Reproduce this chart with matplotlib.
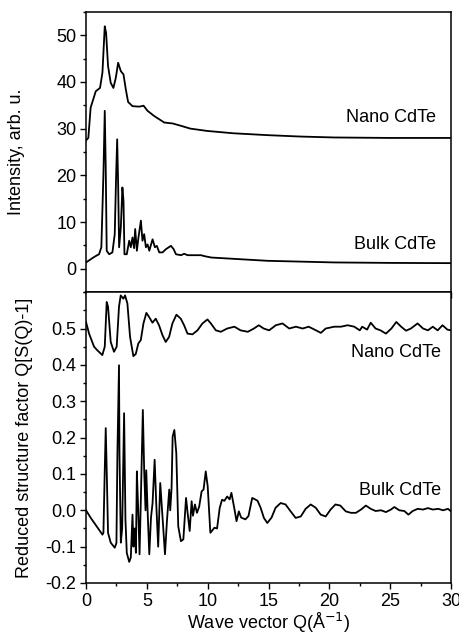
import numpy as np
import matplotlib
matplotlib.use("Agg")
import matplotlib.pyplot as plt
from matplotlib.ticker import MultipleLocator

plt.rcParams['font.family'] = ['Liberation Sans', 'DejaVu Sans']
plt.rcParams['font.size'] = 13

# top panel: intensity (arb. u.) vs Q
nano_i_q = [0.0, 0.19, 0.38, 0.55, 0.8, 1.15, 1.35, 1.54, 1.65, 1.81, 2.03, 2.25, 2.45,
            2.64, 2.86, 3.08, 3.27, 3.46, 3.82, 4.37, 4.73, 5.06, 5.6, 6.43, 7.12, 7.8,
            8.57, 9.95, 12.1, 14.9, 17.6, 20.4, 25.0, 30.0]
nano_i = [27.5, 28.0, 34.5, 35.9, 38.0, 38.7, 42.0, 51.9, 50.5, 43.4, 39.8, 38.7, 40.9,
          44.1, 42.3, 41.6, 38.4, 35.7, 34.8, 34.7, 34.9, 33.8, 32.7, 31.3, 31.1, 30.6,
          30.0, 29.5, 29.0, 28.6, 28.3, 28.1, 28.0, 28.0]

bulk_i_q = [0.0, 0.6, 0.85, 1.07, 1.26, 1.43, 1.54, 1.62, 1.70, 1.90, 2.17, 2.36, 2.47,
            2.56, 2.64, 2.72, 2.86, 2.99, 3.08, 3.16, 3.35, 3.55, 3.68, 3.82, 3.95, 4.04,
            4.18, 4.31, 4.51, 4.64, 4.78, 4.92, 5.06, 5.2, 5.47, 5.66, 5.82, 6.02, 6.29,
            6.57, 6.98, 7.2, 7.39, 7.8, 8.07, 8.35, 8.9, 9.45, 9.73, 10.3, 14.9, 20.4,
            25.0, 30.0]
bulk_i = [1.35, 2.4, 2.8, 3.1, 4.6, 20.2, 33.8, 21.7, 3.85, 3.1, 3.5, 7.4, 19.5,
          27.7, 18.1, 4.6, 8.8, 17.4, 14.5, 3.1, 3.1, 6.0, 4.6, 6.7, 4.4, 8.5,
          3.85, 6.7, 10.3, 6.0, 7.4, 4.6, 5.2, 3.85, 6.3, 4.6, 4.9, 3.5, 3.5,
          4.2, 4.9, 4.2, 3.1, 2.9, 3.2, 2.9, 2.9, 2.9, 2.7, 2.4, 1.7, 1.35,
          1.25, 1.2]

# bottom panel: reduced structure factor Q[S(Q)-1]
nano_s_q = [0.0, 0.25, 0.66, 0.93, 1.34, 1.54, 1.70, 1.81, 2.03, 2.30, 2.52, 2.71, 2.85,
            3.07, 3.21, 3.40, 3.62, 3.89, 4.09, 4.3, 4.5, 4.72, 4.96, 5.18, 5.46, 5.73,
            6.0, 6.28, 6.55, 6.83, 7.1, 7.43, 7.79, 8.06, 8.34, 8.75, 9.16, 9.57, 9.98,
            10.26, 10.67, 11.08, 11.6, 12.2, 12.7, 13.3, 13.8, 14.2, 14.6, 15.05, 15.6,
            16.15, 16.7, 17.25, 17.8, 18.3, 18.9, 19.3, 19.7, 20.4, 20.95, 21.5, 22.05,
            22.5, 22.7, 23.1, 23.4, 23.8, 24.2, 24.65, 25.1, 25.5, 25.9, 26.3, 26.7,
            27.25, 27.7, 28.1, 28.5, 28.9, 29.3, 29.7, 30.0]
nano_s = [0.518, 0.486, 0.45, 0.44, 0.427, 0.45, 0.573, 0.56, 0.463, 0.436, 0.45, 0.56, 0.591,
          0.582, 0.591, 0.569, 0.477, 0.424, 0.43, 0.459, 0.468, 0.514, 0.543, 0.532, 0.516, 0.527,
          0.509, 0.482, 0.463, 0.477, 0.514, 0.538, 0.527, 0.509, 0.486, 0.484, 0.495, 0.514, 0.525,
          0.514, 0.495, 0.491, 0.5, 0.505, 0.495, 0.491, 0.5, 0.509, 0.5, 0.495, 0.509,
          0.514, 0.5, 0.505, 0.5, 0.505, 0.495, 0.488, 0.5, 0.505, 0.505, 0.509, 0.505,
          0.495, 0.505, 0.497, 0.516, 0.5, 0.495, 0.486, 0.5, 0.518, 0.505, 0.494, 0.5,
          0.514, 0.5, 0.495, 0.505, 0.495, 0.509, 0.497, 0.495]

bulk_s_q = [0.0, 0.39, 1.35, 1.43, 1.54, 1.62, 1.70, 1.81, 2.03, 2.36, 2.5, 2.58, 2.71,
            2.75, 2.86, 2.97, 3.13, 3.24, 3.35, 3.55, 3.68, 3.82, 3.9, 4.0, 4.1, 4.18,
            4.29, 4.4, 4.51, 4.67, 4.78, 4.89, 4.95, 5.06, 5.2, 5.34, 5.47, 5.64, 5.77,
            5.93, 6.1, 6.21, 6.49, 6.65, 6.84, 6.92, 7.03, 7.12, 7.26, 7.42, 7.58, 7.8,
            8.0, 8.22, 8.35, 8.52, 8.68, 8.79, 8.95, 9.12, 9.3, 9.5, 9.66, 9.84, 10.0,
            10.22, 10.55, 10.77, 10.99, 11.18, 11.37, 11.6, 11.8, 11.95, 12.2, 12.37, 12.56,
            12.75, 13.1, 13.35, 13.66, 13.9, 14.1, 14.35, 14.62, 14.9, 15.25, 15.58, 16.0,
            16.4, 16.82, 17.23, 17.65, 18.05, 18.47, 18.88, 19.29, 19.7, 20.1, 20.5, 20.9,
            21.35, 21.77, 22.18, 22.6, 23.0, 23.4, 23.8, 24.25, 24.65, 25.06, 25.34, 25.75,
            26.16, 26.5, 26.85, 27.26, 27.7, 28.1, 28.5, 28.95, 29.35, 29.75, 30.0]
bulk_s = [0.0, -0.021, -0.067, -0.062, 0.111, 0.226, 0.111, -0.062, -0.089, -0.103, -0.09, 0.157, 0.399,
          0.157, -0.089, -0.05, 0.267, -0.025, -0.117, -0.142, -0.13, -0.012, -0.1, -0.05, -0.117, 0.107,
          0.0, -0.121, 0.036, 0.276, 0.11, 0.0, 0.11, 0.0, -0.121, -0.02, 0.02, 0.139, 0.02,
          -0.1, 0.075, 0.02, -0.121, -0.03, 0.057, 0.0, 0.06, 0.203, 0.221, 0.157, -0.044, -0.085,
          -0.08, 0.034, -0.007, -0.057, 0.025, -0.015, 0.016, -0.007, 0.01, 0.052, 0.057, 0.107, 0.066,
          -0.062, -0.048, -0.05, 0.007, 0.029, 0.026, 0.038, 0.03, 0.048, 0.003, -0.03, -0.003,
          -0.02, -0.025, -0.016, 0.034, 0.03, 0.026, 0.007, -0.021, -0.035, -0.02, 0.007, 0.02,
          0.016, -0.003, -0.021, -0.017, 0.004, 0.016, 0.007, -0.012, -0.017, 0.002, 0.016, 0.013,
          -0.003, -0.007, -0.007, 0.002, 0.013, 0.004, -0.002, 0.0, -0.005, 0.002, 0.009, 0.0,
          -0.002, -0.012, -0.002, 0.004, 0.002, 0.006, 0.002, 0.004, 0.0, 0.004, -0.003]

fig = plt.figure(figsize=(4.6, 6.35), dpi=100)
ax1 = fig.add_axes([0.187, 0.540, 0.7935, 0.4414])
ax2 = fig.add_axes([0.187, 0.0819, 0.7935, 0.458])

ax1.plot(nano_i_q, nano_i, color='black', lw=1.3)
ax1.plot(bulk_i_q, bulk_i, color='black', lw=1.3)
ax2.plot(nano_s_q, nano_s, color='black', lw=1.3)
ax2.plot(bulk_s_q, bulk_s, color='black', lw=1.3)

ax1.set_xlim(0, 30)
ax1.set_ylim(-5, 55)
ax2.set_xlim(0, 30)
ax2.set_ylim(-0.2, 0.6)

ax1.set_yticks([0, 10, 20, 30, 40, 50])
ax1.yaxis.set_minor_locator(MultipleLocator(5))
ax2.set_yticks([-0.2, -0.1, 0.0, 0.1, 0.2, 0.3, 0.4, 0.5])
ax2.yaxis.set_minor_locator(MultipleLocator(0.05))
for ax in (ax1, ax2):
    ax.xaxis.set_major_locator(MultipleLocator(5))
    ax.xaxis.set_minor_locator(MultipleLocator(2.5))
    ax.tick_params(which='major', direction='out', length=4, width=1, pad=3)
    ax.tick_params(which='minor', direction='out', length=2.5, width=1)
    for s in ax.spines.values():
        s.set_linewidth(1.1)
ax1.tick_params(axis='x', labelbottom=False)
ax2.yaxis.set_major_formatter(plt.FuncFormatter(lambda v, p: f"{v:.1f}"))

ax1.text(28.8, 32.3, "Nano CdTe", ha='right', va='center')
ax1.text(28.8, 5.1, "Bulk CdTe", ha='right', va='center')
ax2.text(29.2, 0.435, "Nano CdTe", ha='right', va='center')
ax2.text(29.2, 0.054, "Bulk CdTe", ha='right', va='center')

ax1.set_ylabel("Intensity, arb. u.")
ax2.set_ylabel("Reduced structure factor Q[S(Q)-1]")
# label coords give the right edge of the rotated label
ax1.yaxis.set_label_coords(-0.167, 0.5)
ax2.yaxis.set_label_coords(-0.145, 0.5)
ax2.set_xlabel("Wave vector Q(Å$^{-1}$)", labelpad=1)

fig.savefig("out.png", dpi=100)
